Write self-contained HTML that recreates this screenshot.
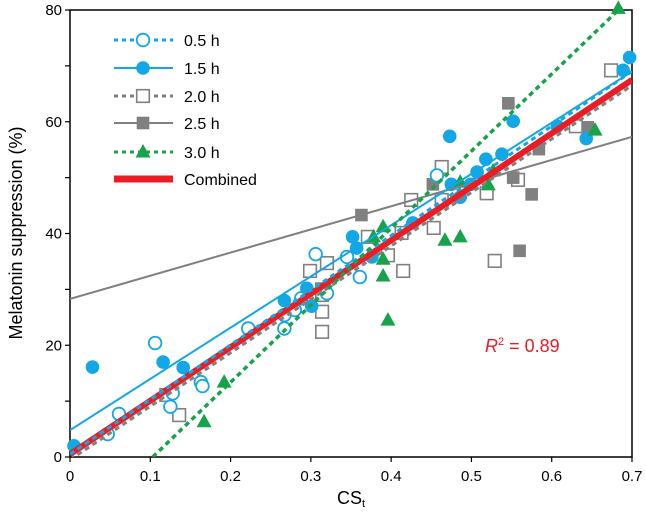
<!DOCTYPE html>
<html><head><meta charset="utf-8"><style>
body{margin:0;background:#fff;}
svg text{font-family:"Liberation Sans",Arial,sans-serif;}
</style></head><body>
<svg id="chart" width="646" height="516" viewBox="0 0 646 516" xmlns="http://www.w3.org/2000/svg"></svg>
<script>
const xTicks=[0,0.1,0.2,0.3,0.4,0.5,0.6,0.7];
const yTicks=[0,10,20,30,40,50,60,70,80];
const yLabels=[0,20,40,60,80];
const s05x=[0.047,0.061,0.106,0.128,0.125,0.163,0.165,0.222,0.267,0.267,0.28,0.288,0.306,0.32,0.345,0.361,0.457];
const s05y=[4.1,7.7,20.4,11.4,9,13.4,12.7,23,25.4,23,26.3,28.4,36.3,29.3,35.8,32.2,50.4];
const s15x=[0.005,0.028,0.116,0.141,0.267,0.295,0.301,0.352,0.357,0.376,0.427,0.473,0.475,0.486,0.499,0.507,0.518,0.538,0.552,0.607,0.643,0.689,0.697];
const s15y=[2,16.1,17,16,28,30.2,27,39.4,37.4,35.8,41.9,57.4,48.8,46.5,48.8,51,53.3,54.2,60.1,59.2,57,69.2,71.5];
const s20x=[0.12,0.136,0.299,0.32,0.314,0.314,0.314,0.314,0.371,0.396,0.415,0.413,0.425,0.453,0.463,0.463,0.519,0.529,0.558,0.63,0.674];
const s20y=[11.1,7.5,33.3,34.7,30,29,26,22.4,39.4,36.1,33.3,40.1,46,41,46,51.9,47.2,35.1,49.6,59.2,69.2];
const s25x=[0.363,0.452,0.546,0.552,0.575,0.56,0.584,0.645];
const s25y=[43.3,48.8,63.3,50,47,36.9,55.1,59];
const s30x=[0.167,0.192,0.378,0.39,0.39,0.39,0.396,0.467,0.486,0.486,0.521,0.527,0.654,0.683];
const s30y=[6.3,13.4,39.4,41.2,35.4,32.4,24.5,38.8,39.4,49.2,48.7,51.2,58.5,80.3];
// fit lines: [x0,y0,x1,y1]
const fit05=[0,0.5,0.7,69];
const fit15=[0,4.8,0.7,69];
const fit20=[0,-0.5,0.7,66.5];
const fit25=[0,28.3,0.7,57.3];
const fit30=[0.103,0,0.683,80];
const fitAll=[0,0.5,0.7,67.5];

const L=70,R=632,T=10,B=457;
const X=v=>L+v/0.7*(R-L);
const Y=v=>B-v/80*(B-T);
const svg=document.getElementById('chart');
const NS='http://www.w3.org/2000/svg';
function mk(tag,attrs,parent){const e=document.createElementNS(NS,tag);for(const k in attrs)e.setAttribute(k,attrs[k]);(parent||svg).appendChild(e);return e;}
const BLUE='#12a7e6',GRAY='#808080',GREEN='#17a34a',RED='#ec1c24';

let fr=mk('rect',{x:L,y:T,width:R-L,height:B-T,fill:'none',stroke:'#000','stroke-width':1.5});


xTicks.forEach(t=>{
  let l=mk('line',{x1:X(t),x2:X(t),y1:B,y2:B+5,stroke:'#000','stroke-width':1.2});
  
  
  let tx=mk('text',{x:X(t),y:B+24,'text-anchor':'middle','font-size':15});
  tx.textContent=String(t);
  
  
});
yTicks.forEach(t=>{
  let l=mk('line',{x1:L-5,x2:L,y1:Y(t),y2:Y(t),stroke:'#000','stroke-width':1.2});
  
  
});
yLabels.forEach(t=>{
  let tx=mk('text',{x:L-8,y:Y(t)+5,'text-anchor':'end','font-size':15});
  tx.textContent=String(t);
  
  
});
let xt=mk('text',{x:351,y:504,'text-anchor':'middle','font-size':18});
xt.innerHTML='CS<tspan font-size="11" dy="3">t</tspan>';


let yt=mk('text',{x:0,y:0,'text-anchor':'middle','font-size':18,transform:'translate(22,233) rotate(-90)'});
yt.textContent='Melatonin suppression (%)';



const g=mk('g',{'clip-path':'url(#clip)'});
const defs=mk('defs',{});
const cp=mk('clipPath',{id:'clip'},defs);
mk('rect',{x:L,y:T,width:R-L,height:B-T},cp);

function fitLine(f,color,w,dash,name){
  let l=mk('line',{x1:X(f[0]),y1:Y(f[1]),x2:X(f[2]),y2:Y(f[3]),stroke:color,'stroke-width':w,'stroke-dasharray':dash||'none'},g);
  
  
}
function marker(type,cx,cy,parent,name){
  let e;
  if(type==='oc')e=mk('circle',{cx,cy,r:6.3,fill:'#fff',stroke:BLUE,'stroke-width':1.8},parent);
  else if(type==='fc')e=mk('circle',{cx,cy,r:6.8,fill:BLUE},parent);
  else if(type==='os')e=mk('rect',{x:cx-6.3,y:cy-6.3,width:12.6,height:12.6,fill:'#fff',stroke:GRAY,'stroke-width':1.6},parent);
  else if(type==='fs')e=mk('rect',{x:cx-6.3,y:cy-6.3,width:12.6,height:12.6,fill:GRAY},parent);
  else e=mk('polygon',{points:`${cx},${cy-8} ${cx-7.5},${cy+5.5} ${cx+7.5},${cy+5.5}`,fill:GREEN},parent);
  
  
}
function pts(xs,ys,type,name){xs.forEach((v,i)=>marker(type,X(v),Y(ys[i]),svg,name));}

fitLine(fit25,GRAY,2,null,'fit-2.5h');
pts(s20x,s20y,'os','point-2.0h');
pts(s25x,s25y,'fs','point-2.5h');
pts(s05x,s05y,'oc','point-0.5h');
pts(s15x,s15y,'fc','point-1.5h');
pts(s30x,s30y,'tr','point-3.0h');
svg.appendChild(g);
fitLine(fit15,BLUE,2,null,'fit-1.5h');
fitLine(fitAll,RED,6,null,'fit-combined');
fitLine(fit05,BLUE,3,'5,4','fit-0.5h');
fitLine(fit20,GRAY,3,'5,4','fit-2.0h');
fitLine(fit30,GREEN,3.5,'5,4','fit-3.0h');

const lg=mk('g',{});


const leg=[['0.5 h',BLUE,'4,4','oc',3],['1.5 h',BLUE,null,'fc',2],['2.0 h',GRAY,'4,4','os',3],['2.5 h',GRAY,null,'fs',2],['3.0 h',GREEN,'4,4','tr',3],['Combined',RED,null,null,7]];
const ly=[40,68,96,123,152,179];
leg.forEach((e,i)=>{
  let gg=mk('g',{},lg);
  
  
  mk('line',{x1:114,x2:173,y1:ly[i],y2:ly[i],stroke:e[1],'stroke-width':e[4],'stroke-dasharray':e[2]||'none'},gg);
  if(e[3])marker(e[3],143,ly[i],gg,'legend-marker');
  let t=mk('text',{x:184,y:ly[i]+6,'font-size':16},gg);
  t.textContent=e[0];
});
let r2=mk('text',{x:485,y:352,'font-size':18,fill:RED});
r2.innerHTML='<tspan font-style="italic">R</tspan><tspan font-size="11" dy="-7">2</tspan><tspan dy="7"> = 0.89</tspan>';


</script>
</body></html>
